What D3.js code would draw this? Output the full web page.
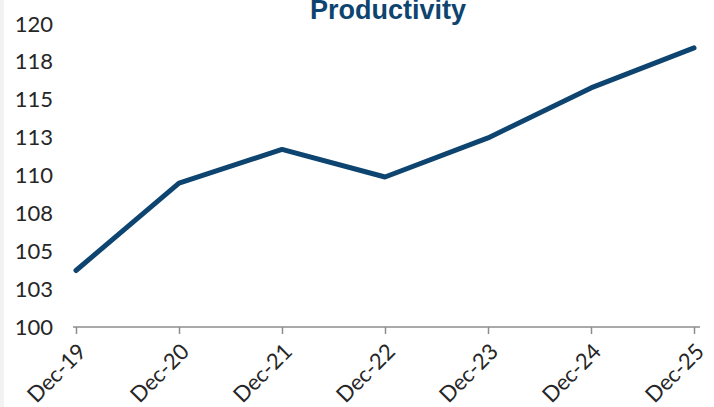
<!DOCTYPE html>
<html><head><meta charset="utf-8">
<script src="https://cdn.jsdelivr.net/npm/d3@7"></script>
<style>body{margin:0;background:#fff}svg{display:block}</style>
</head><body>
<script>
const categories = ["Dec-19","Dec-20","Dec-21","Dec-22","Dec-23","Dec-24","Dec-25"];
const productivity = [103.73,109.5,111.72,109.9,112.48,115.78,118.42];
const yTicks = [100,102.5,105,107.5,110,112.5,115,117.5,120];
const title = "Productivity";

const W = 714, H = 407;
const svg = d3.select("body").append("svg").attr("width", W).attr("height", H);
svg.append("rect").attr("x",0).attr("y",0).attr("width",4).attr("height",H).attr("fill","#f2f2f2");

const x = d3.scalePoint().domain(categories).range([76, 694]);
const y = d3.scaleLinear().domain([100,120]).range([327, 24]);

svg.append("text").attr("x", 388).attr("y", 19).attr("text-anchor","middle")
  .attr("font-family","Liberation Sans, Arial, sans-serif").attr("font-weight","bold")
  .attr("font-size", 27).attr("fill","#0e4470").text(title);

// y axis labels
const ya = svg.append("g").attr("transform","translate(53,0)")
  .call(d3.axisLeft(y).tickValues(yTicks).tickSize(0).tickPadding(0).tickFormat(d => Math.round(d)));
ya.select(".domain").remove();
ya.selectAll("text").attr("font-family","Lato, sans-serif").attr("font-size",22).attr("fill","#262626");

// x axis
const xa = svg.append("g").attr("transform","translate(0,327)")
  .call(d3.axisBottom(x).tickSize(7).tickSizeOuter(0));
xa.select(".domain").attr("stroke","#8c8c8c").attr("stroke-width",1.5)
  .attr("d", `M${x.range()[0]-3},0H${x.range()[1]+6}`);
xa.selectAll(".tick line").attr("stroke","#8c8c8c").attr("stroke-width",1.5);
xa.selectAll(".tick text").attr("font-family","Lato, sans-serif").attr("font-size",22).attr("fill","#262626")
  .attr("text-anchor","end").attr("dy",0).attr("y",0)
  .attr("transform","translate(11,26) rotate(-45)");

const line = d3.line().x((d,i)=>x(categories[i])).y(d=>y(d));
svg.append("path").datum(productivity).attr("d", line).attr("fill","none")
  .attr("stroke","#0e4470").attr("stroke-width",5).attr("stroke-linejoin","round").attr("stroke-linecap","round");
</script>
</body></html>
